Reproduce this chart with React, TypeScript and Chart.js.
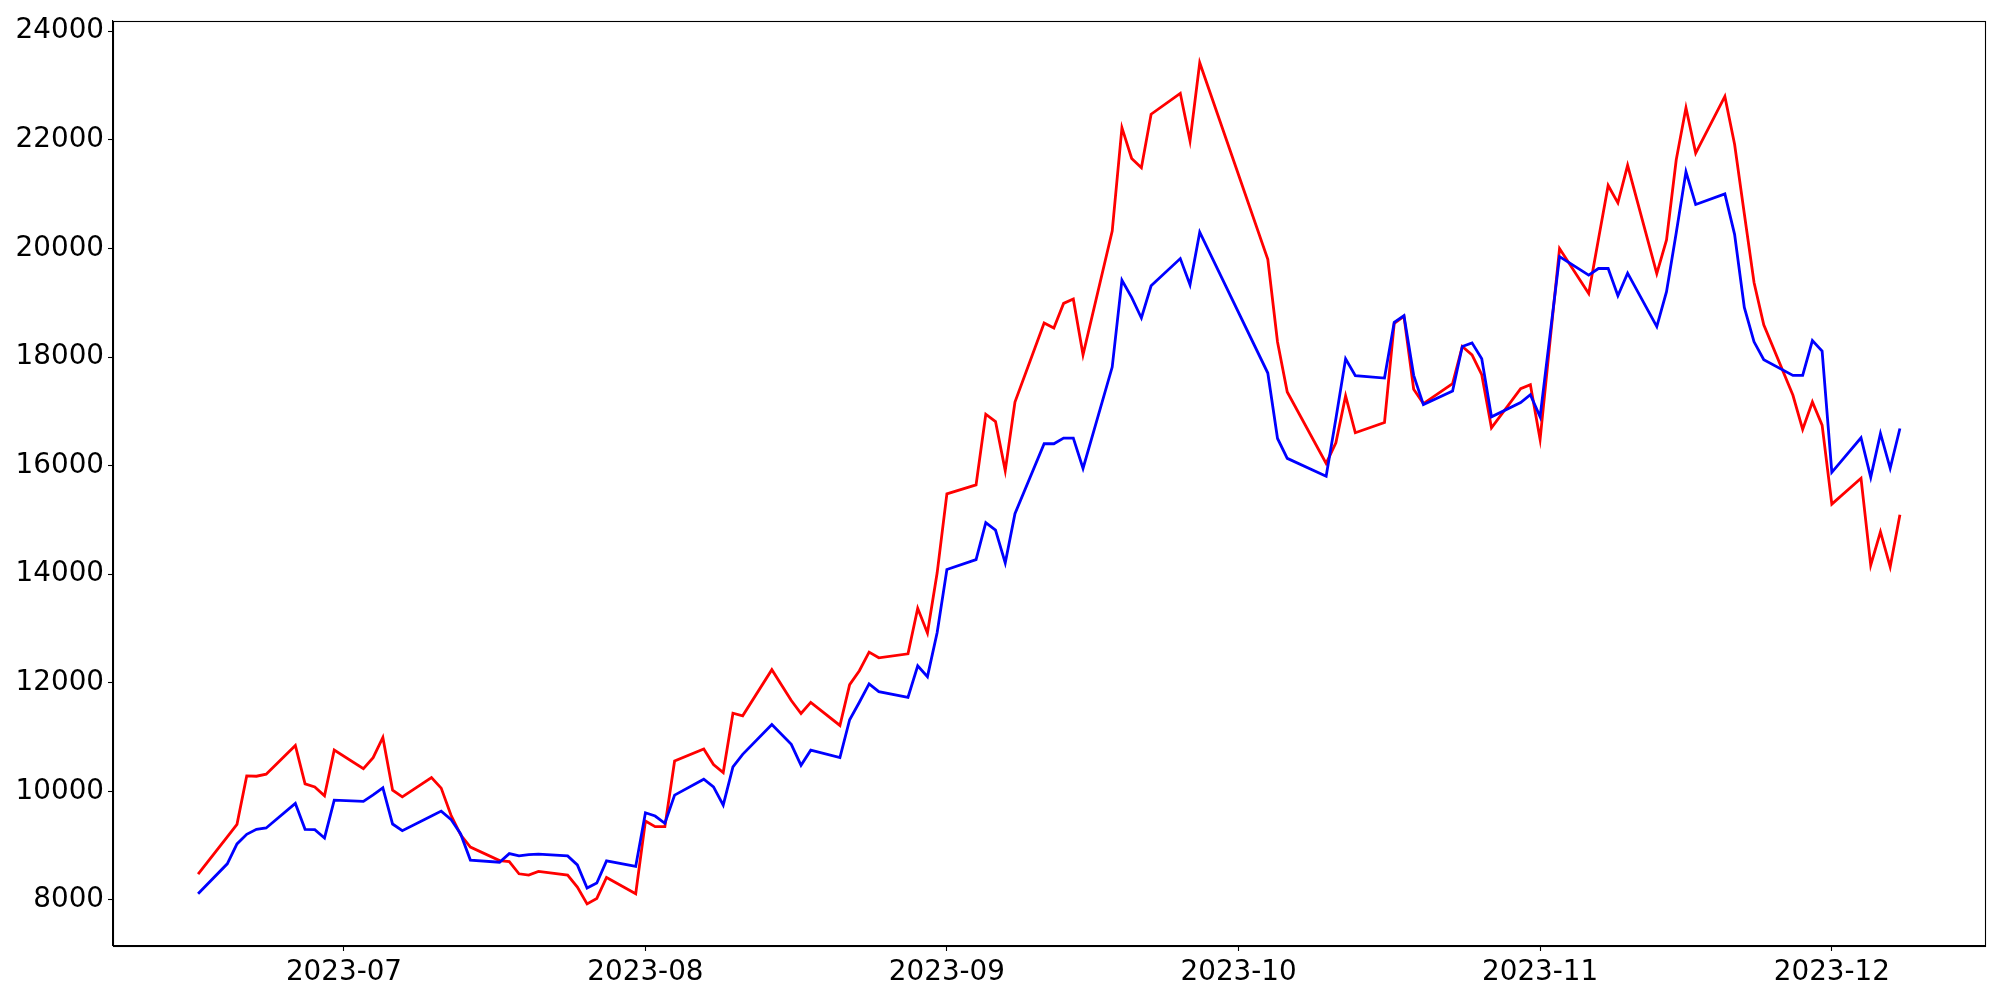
import { useEffect, useRef } from 'react';
import { Chart, registerables } from 'chart.js';

Chart.register(...registerables);

const dates: string[] = [
  '2023-06-16', '2023-06-19', '2023-06-20', '2023-06-21', '2023-06-22', '2023-06-23', '2023-06-26', '2023-06-27', '2023-06-28', '2023-06-29', '2023-06-30',
  '2023-07-03', '2023-07-04', '2023-07-05', '2023-07-06', '2023-07-07', '2023-07-10', '2023-07-11', '2023-07-12', '2023-07-13', '2023-07-14',
  '2023-07-17', '2023-07-18', '2023-07-19', '2023-07-20', '2023-07-21', '2023-07-24', '2023-07-25', '2023-07-26', '2023-07-27', '2023-07-28', '2023-07-31',
  '2023-08-01', '2023-08-02', '2023-08-03', '2023-08-04', '2023-08-07', '2023-08-08', '2023-08-09', '2023-08-10', '2023-08-11', '2023-08-14',
  '2023-08-16', '2023-08-17', '2023-08-18', '2023-08-21', '2023-08-22', '2023-08-23', '2023-08-24', '2023-08-25', '2023-08-28', '2023-08-29', '2023-08-30', '2023-08-31',
  '2023-09-01', '2023-09-04', '2023-09-05', '2023-09-06', '2023-09-07', '2023-09-08', '2023-09-11', '2023-09-12', '2023-09-13', '2023-09-14', '2023-09-15',
  '2023-09-18', '2023-09-19', '2023-09-20', '2023-09-21', '2023-09-22', '2023-09-25', '2023-09-26', '2023-09-27',
  '2023-10-04', '2023-10-05', '2023-10-06', '2023-10-10', '2023-10-11', '2023-10-12', '2023-10-13', '2023-10-16', '2023-10-17', '2023-10-18', '2023-10-19', '2023-10-20',
  '2023-10-23', '2023-10-24', '2023-10-25', '2023-10-26', '2023-10-27', '2023-10-30', '2023-10-31',
  '2023-11-01', '2023-11-02', '2023-11-03', '2023-11-06', '2023-11-07', '2023-11-08', '2023-11-09', '2023-11-10', '2023-11-13', '2023-11-14', '2023-11-15', '2023-11-16', '2023-11-17',
  '2023-11-20', '2023-11-21', '2023-11-22', '2023-11-23', '2023-11-24', '2023-11-27', '2023-11-28', '2023-11-29', '2023-11-30',
  '2023-12-01', '2023-12-04', '2023-12-05', '2023-12-06', '2023-12-07', '2023-12-08',
];

const redSeries: number[] = [
  8477, 9161, 9393, 10285, 10279, 10316, 10847, 10138, 10083, 9918, 10761,
  10420, 10622, 10994, 10022, 9899, 10255, 10060, 9564, 9200, 8975, 8725, 8705, 8482, 8458, 8525, 8458, 8238, 7927, 8029, 8414, 8115,
  9454, 9350, 9350, 10560, 10780, 10494, 10347, 11440, 11392, 12241, 11673, 11434, 11640, 11214, 11966, 12223, 12565, 12461, 12534, 13372, 12919, 14025,
  15481, 15646, 16947, 16812, 15908, 17170, 18627, 18535, 18988, 19067, 18040, 20319, 22224, 21656, 21485, 22472, 22857, 21982, 23420,
  19800, 18276, 17356, 16042, 16421, 17283, 16605, 16794, 18622, 18750, 17406, 17142, 17509, 18194, 18040, 17674, 16696, 17417, 17491,
  16482, 18250, 19998, 19171, 20170, 21160, 20840, 21531, 19538, 20156, 21634, 22590, 21757, 22800, 21920, 20640, 19373, 18595, 17296, 16666, 17173, 16746,
  15290, 15767, 14166, 14779, 14135, 15095,
];

const blueSeries: number[] = [
  8115, 8666, 9032, 9210, 9302, 9326, 9778, 9302, 9294, 9142, 9839,
  9815, 9936, 10065, 9399, 9276, 9545, 9637, 9485, 9216, 8735, 8695, 8854, 8812, 8836, 8843, 8812, 8647, 8220, 8312, 8721, 8617,
  9606, 9546, 9412, 9931, 10224, 10083, 9747, 10450, 10682, 11232, 10866, 10481, 10760, 10622, 11319, 11642, 11979, 11837, 11733, 12314, 12113, 12925,
  14087, 14270, 14949, 14813, 14208, 15114, 16403, 16403, 16507, 16507, 15950, 17815, 19415, 19098, 18719, 19313, 19813, 19331, 20300,
  17705, 16500, 16133, 15805, 16863, 17968, 17656, 17613, 18640, 18762, 17663, 17124, 17375, 18194, 18261, 17968, 16898, 17160, 17307,
  16898, 18377, 19850, 19508, 19630, 19630, 19129, 19544, 18561, 19203, 20290, 21410, 20809, 21005, 20259, 18915, 18280, 17949, 17662, 17662, 18304, 18108,
  15877, 16513, 15785, 16592, 15950, 16683,
];

const yTickValues: number[] = [8000, 10000, 12000, 14000, 16000, 18000, 20000, 22000, 24000];
const xTickMonths: string[] = ['2023-07-01', '2023-08-01', '2023-09-01', '2023-10-01', '2023-11-01', '2023-12-01'];

const DAY_MS = 86400000;
const toDay = (s: string) => {
  const [y, m, d] = s.split('-').map(Number);
  return Date.UTC(y, m - 1, d) / DAY_MS;
};
const fmtMonth = (v: number) => {
  const d = new Date(Math.round(v) * DAY_MS);
  return `${d.getUTCFullYear()}-${String(d.getUTCMonth() + 1).padStart(2, '0')}`;
};

const framePlugin = {
  id: 'frameBox',
  afterDraw(chart: any) {
    const { ctx, chartArea } = chart;
    ctx.save();
    ctx.strokeStyle = '#000';
    ctx.lineWidth = 1.1;
    ctx.strokeRect(
      Math.round(chartArea.left) + 0.5,
      Math.round(chartArea.top) + 0.5,
      Math.round(chartArea.right) - Math.round(chartArea.left),
      Math.round(chartArea.bottom) - Math.round(chartArea.top)
    );
    ctx.restore();
  },
};

export default function App() {
  const canvasRef = useRef<HTMLCanvasElement>(null);

  useEffect(() => {
    document.body.style.margin = '0';
    const xs = dates.map(toDay);
    const xMin = Math.min(...xs);
    const xMax = Math.max(...xs);
    const xr = xMax - xMin;
    const allY = [...redSeries, ...blueSeries];
    const yMin = Math.min(...allY);
    const yMax = Math.max(...allY);
    const yr = yMax - yMin;
    const font = { family: "'DejaVu Sans', sans-serif", size: 27.8 };

    const chart = new Chart(canvasRef.current as HTMLCanvasElement, {
      type: 'line',
      data: {
        datasets: [
          {
            label: 'red',
            data: xs.map((x, i) => ({ x, y: redSeries[i] })),
            borderColor: '#ff0000',
            borderWidth: 2.8,
            pointRadius: 0,
            tension: 0,
            fill: false,
            order: 2,
          },
          {
            label: 'blue',
            data: xs.map((x, i) => ({ x, y: blueSeries[i] })),
            borderColor: '#0000ff',
            borderWidth: 2.8,
            pointRadius: 0,
            tension: 0,
            fill: false,
            order: 1,
          },
        ],
      },
      options: {
        responsive: false,
        animation: false,
        layout: { padding: { top: 17, right: 15, left: 0, bottom: 0 } },
        plugins: { legend: { display: false }, tooltip: { enabled: false } },
        scales: {
          x: {
            type: 'linear',
            min: xMin - 0.05 * xr,
            max: xMax + 0.05 * xr,
            afterBuildTicks: (s: any) => {
              s.ticks = xTickMonths.map((m) => ({ value: toDay(m) }));
            },
            afterFit: (s: any) => {
              s.height = 54;
            },
            ticks: {
              callback: (v: any) => fmtMonth(Number(v)),
              font,
              color: '#000',
              padding: 5,
              maxRotation: 0,
              autoSkip: false,
            },
            grid: { drawOnChartArea: false, tickLength: 5, color: '#000', tickWidth: 1.1 },
            border: { color: '#000', width: 1.1 },
          },
          y: {
            type: 'linear',
            min: yMin - 0.05 * yr,
            max: yMax + 0.05 * yr,
            afterBuildTicks: (s: any) => {
              s.ticks = yTickValues.map((v) => ({ value: v }));
            },
            afterFit: (s: any) => {
              s.width = 113;
            },
            ticks: {
              callback: (v: any) => String(v),
              font,
              color: '#000',
              padding: 4,
              autoSkip: false,
            },
            grid: { drawOnChartArea: false, tickLength: 5, color: '#000', tickWidth: 1.1 },
            border: { color: '#000', width: 1.1 },
          },
        },
      },
      plugins: [framePlugin],
    });
    return () => chart.destroy();
  }, []);

  return (
    <div style={{ width: 2000, height: 1000, background: '#fff' }}>
      <canvas ref={canvasRef} width={2000} height={1000} style={{ display: 'block' }} />
    </div>
  );
}
